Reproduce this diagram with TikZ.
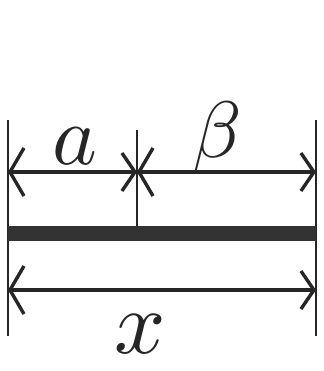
\documentclass[tikz,border=0pt]{standalone}
\usetikzlibrary{arrows.meta}

\begin{document}
\begin{tikzpicture}[
  x=1pt, y=-1pt,
  wall/.style={line width=2.6pt, black!85},
  dimline/.style={{Straight Barb[length=14pt, width=48pt]}-{Straight Barb[length=13pt, width=38pt]},
                  line width=3.4pt, black!85},
  rod/.style={line width=15pt, black!80},
  lbl/.style={inner sep=0pt, black!85},
]
  \useasboundingbox[fill=white] (0,0) rectangle (323,371);

  % --- end marks ---
  \coordinate (lt) at (8,120);
  \coordinate (lb) at (8,336);
  \coordinate (rt) at (316,120);
  \coordinate (rb) at (316,336);
  \coordinate (mt) at (137,130);
  \coordinate (mb) at (137,226);
  \draw[wall] (lt) -- (lb);
  \draw[wall] (rt) -- (rb);
  \draw[wall] (mt) -- (mb);

  % --- the rod ---
  \coordinate (rodl) at (8,233);
  \coordinate (rodr) at (316,233);
  \draw[rod] (rodl) -- (rodr);

  % --- dimensions ---
  \coordinate (al) at (8,172);
  \coordinate (am) at (137,172);
  \coordinate (ar) at (316,172);
  \coordinate (xl) at (8,290);
  \coordinate (xr) at (316,290);
  \draw[dimline] (al) -- (am);
  \draw[dimline] (am) -- (ar);
  \draw[dimline] (xl) -- (xr);

  \node[lbl, scale=8.5] (la) at (75,146) {$a$};
  \node[lbl, scale=8] (lbeta) at (217,138) {$\beta$};
  \node[lbl, scale=9] (lx) at (140,334) {$x$};
\end{tikzpicture}
\end{document}
